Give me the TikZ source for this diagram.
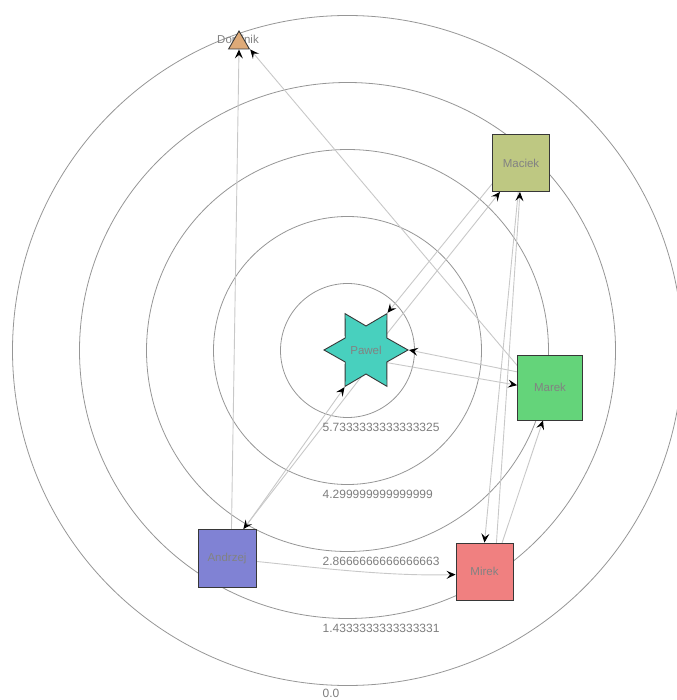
\documentclass[tikz,border=0pt]{standalone}
\usepackage{fontspec}
\setmainfont{Liberation Sans}
\usetikzlibrary{shapes.geometric,arrows.meta,calc}
\pgfdeclarelayer{bg}
\pgfdeclarelayer{edges}
\pgfsetlayers{bg,edges,main}
\definecolor{ringc}{RGB}{150,150,150}
\definecolor{edgec}{RGB}{200,200,200}
\definecolor{bordc}{RGB}{55,55,55}
\definecolor{labc}{RGB}{130,130,130}
\definecolor{numc}{RGB}{125,125,125}
\definecolor{pawc}{RGB}{72,208,190}
\definecolor{macc}{RGB}{190,200,130}
\definecolor{marc}{RGB}{100,212,122}
\definecolor{andc}{RGB}{128,130,212}
\definecolor{mirc}{RGB}{240,128,128}
\definecolor{domc}{RGB}{222,170,120}
\begin{document}
\begin{tikzpicture}[x=1pt,y=-1pt,
  ring/.style={draw=ringc, line width=0.8pt},
  vbox/.style={rectangle, draw=bordc, line width=0.9pt, minimum size=57pt, inner sep=0pt,
    text=labc, font=\fontsize{11.5}{13}\selectfont},
  vlabel/.style={text=labc, font=\fontsize{11.5}{13}\selectfont, inner sep=0pt},
  link/.style={draw=edgec, line width=0.9pt,
    -{Stealth[length=9pt,width=8pt,inset=3.5pt,color=black]}},
  ringlabel/.style={anchor=base west, text=numc, font=\fontsize{12}{14}\selectfont, inner sep=0pt}
]
\useasboundingbox (0,0) rectangle (676,700);
\clip (0,0) rectangle (676,700);
\coordinate (ctr) at (347.5,350.5);
\begin{pgfonlayer}{bg}
  \foreach \r in {67,134,201,268,335} \draw[ring] (ctr) circle[radius=\r];
\end{pgfonlayer}

\node[ringlabel] (l1) at (322.5,431) {5.7333333333333325};
\node[ringlabel] (l2) at (322.5,498) {4.299999999999999};
\node[ringlabel] (l3) at (322.5,565) {2.8666666666666663};
\node[ringlabel] (l4) at (322.5,632) {1.4333333333333331};
\node[ringlabel] (l5) at (322.5,697.5) {0.0};

\node[star, star points=6, star point ratio=1.75, shape border rotate=30,
  minimum size=84pt, inner sep=0pt, fill=pawc, draw=bordc, line width=0.9pt,
  text=labc, font=\fontsize{11.5}{13}\selectfont] (paw) at (366,350) {Pawel};
\node[vbox, fill=macc] (mac) at (521,163) {Maciek};
\node[vbox, fill=marc, minimum size=65pt] (mar) at (550,387.5) {Marek};
\node[vbox, fill=andc, minimum size=58pt] (and) at (227,558.5) {Andrzej};
\node[vbox, fill=mirc] (mir) at (484.5,571.5) {Mirek};
\node[vlabel] (domlab) at (238,39.5) {Dominik};
\node[regular polygon, regular polygon sides=3, minimum size=24pt, inner sep=0pt,
  fill=domc, draw=bordc, line width=0.9pt] (dom) at (239,43) {};

\begin{pgfonlayer}{edges}
  \draw[link] ($(paw)+(8,0)$) -- (mac.234);
  \draw[link] ($(mac)+(-12,0)$) -- (paw.60);
  \draw[link] ($(mar)+(0,-9)$) -- (paw.0);
  \draw[link] ($(paw)+(0,9)$) -- (mar.176);
  \draw[link] ($(and)+(-4,0)$) -- (paw.240);
  \draw[link] ($(paw)+(16,0)$) -- (and.61);
  \draw[link] ($(and)+(4,0)$) -- (dom.270);
  \draw[link] ($(mar)+(-10,5)$) -- (dom.-30);
  \draw[link] (mac) -- (mir.north);
  \draw[link] ($(mir)+(10,0)$) -- (mac.268);
  \draw[link] ($(mir)+(8,0)$) -- (mar.258);
  \draw[link] (and) .. controls +(80,8) and +(-70,2) .. (mir.186);
\end{pgfonlayer}
\end{tikzpicture}
\end{document}
